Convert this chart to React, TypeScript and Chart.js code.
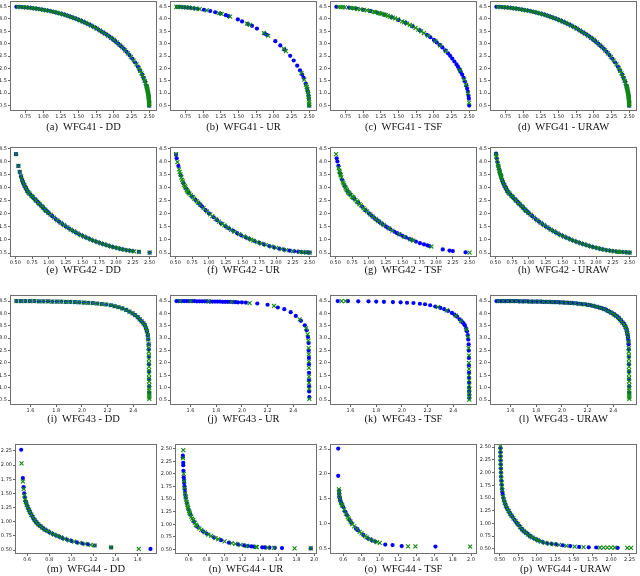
import React, { useEffect, useRef } from "react";
import { Chart, registerables } from "chart.js";

Chart.register(...registerables);

type Pt = [number, number];

// ---------------- tick labels ----------------
const t41X = [0.75, 1.0, 1.25, 1.5, 1.75, 2.0, 2.25, 2.5];
const t4Y = [0.5, 1.0, 1.5, 2.0, 2.5, 3.0, 3.5, 4.0, 4.5];
const t42X = [0.5, 0.75, 1.0, 1.25, 1.5, 1.75, 2.0, 2.25, 2.5];
const t43X = [1.6, 1.8, 2.0, 2.2, 2.4];
const t44mX = [0.6, 0.8, 1.0, 1.2, 1.4, 1.6];
const t44mY = [0.5, 0.75, 1.0, 1.25, 1.5, 1.75, 2.0, 2.25];
const t44nX = [0.6, 0.8, 1.0, 1.2, 1.4, 1.6, 1.8, 2.0];
const t44nY = [0.5, 0.75, 1.0, 1.25, 1.5, 1.75, 2.0, 2.25, 2.5];
const t44oY = [0.5, 1.0, 1.5, 2.0, 2.5];
const t44pX = [0.5, 0.75, 1.0, 1.25, 1.5, 1.75, 2.0, 2.25];

// ---------------- WFG41 ----------------
const w41Even: Pt[] = [[0.62,4.49],[0.66,4.49],[0.70,4.48],[0.74,4.47],[0.78,4.46],[0.82,4.45],[0.86,4.43],[0.90,4.42],[0.94,4.40],[0.98,4.38],[1.02,4.36],[1.06,4.34],[1.10,4.32],[1.14,4.29],[1.18,4.26],[1.22,4.23],[1.26,4.20],[1.30,4.17],[1.34,4.13],[1.38,4.09],[1.42,4.05],[1.46,4.01],[1.50,3.96],[1.54,3.92],[1.58,3.87],[1.62,3.81],[1.66,3.76],[1.70,3.70],[1.74,3.64],[1.78,3.57],[1.82,3.50],[1.86,3.43],[1.90,3.36],[1.94,3.28],[1.98,3.19],[2.02,3.10],[2.06,3.00],[2.10,2.90],[2.14,2.79],[2.18,2.67],[2.22,2.54],[2.26,2.40],[2.30,2.24],[2.34,2.07],[2.37,1.92],[2.40,1.75],[2.42,1.62],[2.44,1.47],[2.46,1.31],[2.47,1.19],[2.48,1.06],[2.49,0.90],[2.495,0.78],[2.498,0.66],[2.5,0.5]];
const w41Odd: Pt[] = [[0.64,4.49],[0.68,4.48],[0.72,4.48],[0.76,4.47],[0.80,4.46],[0.84,4.44],[0.88,4.43],[0.92,4.41],[0.96,4.39],[1.00,4.37],[1.04,4.35],[1.08,4.33],[1.12,4.30],[1.16,4.28],[1.20,4.25],[1.24,4.22],[1.28,4.18],[1.32,4.15],[1.36,4.11],[1.40,4.07],[1.44,4.03],[1.48,3.99],[1.52,3.94],[1.56,3.89],[1.60,3.84],[1.64,3.79],[1.68,3.73],[1.72,3.67],[1.76,3.61],[1.80,3.54],[1.84,3.47],[1.88,3.40],[1.92,3.32],[1.96,3.23],[2.00,3.15],[2.04,3.05],[2.08,2.95],[2.12,2.85],[2.16,2.73],[2.20,2.61],[2.24,2.47],[2.28,2.32],[2.32,2.16]];
const w41Steep: Pt[] = [[2.354,2.0],[2.373,1.9],[2.391,1.8],[2.408,1.7],[2.423,1.6],[2.436,1.5],[2.449,1.4],[2.46,1.3],[2.465,1.25],[2.469,1.2],[2.473,1.15],[2.477,1.1],[2.481,1.05],[2.484,1.0],[2.487,0.95],[2.49,0.9],[2.492,0.85],[2.494,0.8],[2.496,0.75],[2.497,0.7],[2.498,0.65],[2.499,0.6],[2.5,0.55],[2.5,0.5]];
const bBlue: Pt[] = [[0.63,4.49],[0.66,4.49],[0.70,4.48],[0.74,4.47],[0.78,4.46],[0.82,4.45],[0.87,4.43],[0.92,4.41],[1.01,4.37],[1.10,4.32],[1.17,4.27],[1.24,4.22],[1.32,4.15],[1.36,4.11],[1.49,3.98],[1.55,3.90],[1.63,3.80],[1.69,3.72],[1.76,3.61],[1.87,3.41],[1.90,3.36],[2.02,3.10],[2.09,2.93],[2.15,2.76],[2.23,2.51],[2.28,2.32],[2.33,2.11],[2.37,1.92],[2.40,1.75],[2.42,1.62],[2.45,1.39],[2.47,1.19],[2.48,1.06],[2.49,0.90],[2.495,0.78],[2.5,0.5]];
const bGreen: Pt[] = [[0.62,4.49],[0.64,4.49],[0.68,4.48],[0.72,4.48],[0.76,4.47],[0.80,4.46],[0.85,4.44],[0.90,4.42],[0.95,4.40],[1.05,4.35],[1.22,4.23],[1.26,4.20],[1.38,4.09],[1.62,3.81],[1.66,3.76],[1.86,3.43],[1.92,3.32],[2.14,2.79],[2.17,2.70],[2.39,1.81],[2.43,1.55],[2.455,1.34],[2.465,1.25],[2.473,1.15],[2.481,1.05],[2.487,0.95],[2.492,0.85],[2.496,0.75],[2.498,0.65],[2.5,0.55],[2.5,0.5]];
const cBlue: Pt[] = [[0.62,4.49],[0.80,4.46],[0.90,4.42],[1.00,4.37],[1.10,4.32],[1.20,4.25],[1.30,4.17],[1.40,4.07],[1.50,3.96],[1.60,3.84],[1.70,3.70],[1.80,3.54],[1.90,3.36],[1.95,3.26],[2.00,3.15],[2.04,3.05],[2.08,2.95],[2.12,2.85],[2.16,2.73],[2.20,2.61],[2.23,2.51],[2.26,2.40],[2.29,2.28],[2.32,2.16],[2.34,2.07],[2.36,1.97],[2.38,1.86],[2.40,1.75],[2.42,1.62],[2.44,1.47],[2.46,1.31],[2.47,1.19],[2.48,1.06],[2.49,0.90],[2.495,0.78],[2.5,0.5]];
const cGreen: Pt[] = [[0.65,4.49],[0.68,4.48],[0.71,4.48],[0.74,4.47],[0.82,4.45],[0.85,4.44],[0.87,4.43],[0.92,4.41],[0.96,4.39],[1.01,4.37],[1.05,4.35],[1.10,4.32],[1.15,4.28],[1.17,4.27],[1.22,4.23],[1.24,4.22],[1.26,4.20],[1.30,4.17],[1.32,4.15],[1.35,4.12],[1.38,4.09],[1.42,4.05],[1.45,4.02],[1.49,3.98],[1.55,3.90],[1.58,3.87],[1.62,3.81],[1.66,3.76],[1.69,3.72],[1.74,3.64],[1.78,3.57],[1.82,3.50],[1.86,3.43],[1.92,3.32],[2.02,3.10],[2.09,2.93],[2.17,2.70],[2.37,1.92],[2.43,1.55],[2.455,1.34],[2.484,1.0],[2.498,0.62]];

// ---------------- WFG42 ----------------
const eBlue: Pt[] = [[0.51,4.28],[0.545,3.83],[0.565,3.60],[0.585,3.43],[0.60,3.30],[0.61,3.23],[0.62,3.17],[0.63,3.11],[0.64,3.06],[0.65,3.01],[0.66,2.96],[0.67,2.91],[0.68,2.87],[0.69,2.83],[0.70,2.80],[0.725,2.73],[0.75,2.66],[0.775,2.595],[0.80,2.53],[0.825,2.465],[0.85,2.40],[0.875,2.335],[0.90,2.27],[0.925,2.205],[0.95,2.14],[0.975,2.08],[1.00,2.02],[1.05,1.91],[1.10,1.80],[1.15,1.70],[1.20,1.61],[1.25,1.52],[1.30,1.44],[1.35,1.36],[1.40,1.29],[1.45,1.22],[1.50,1.16],[1.55,1.10],[1.60,1.045],[1.65,0.99],[1.70,0.94],[1.75,0.89],[1.80,0.85],[1.85,0.81],[1.90,0.77],[1.95,0.735],[2.00,0.70],[2.05,0.67],[2.10,0.64],[2.15,0.615],[2.20,0.595],[2.25,0.575],[2.34,0.55],[2.50,0.52]];
const eGreen: Pt[] = [[0.51,4.28],[0.545,3.83],[0.565,3.60],[0.585,3.43],[0.60,3.30],[0.615,3.20],[0.635,3.085],[0.655,2.985],[0.675,2.89],[0.695,2.815],[0.71,2.77],[0.74,2.69],[0.76,2.635],[0.79,2.555],[0.81,2.505],[0.84,2.425],[0.86,2.375],[0.89,2.295],[0.91,2.245],[0.94,2.165],[0.96,2.115],[0.99,2.045],[1.025,1.965],[1.075,1.855],[1.125,1.75],[1.175,1.655],[1.225,1.565],[1.275,1.48],[1.325,1.40],[1.375,1.325],[1.425,1.255],[1.475,1.19],[1.525,1.13],[1.575,1.07],[1.625,1.015],[1.675,0.965],[1.725,0.915],[1.775,0.87],[1.825,0.83],[1.875,0.79],[1.925,0.75],[1.975,0.715],[2.025,0.685],[2.075,0.655],[2.125,0.627],[2.175,0.605],[2.225,0.585],[2.27,0.568],[2.34,0.55],[2.50,0.52]];
const fBlue: Pt[] = [[0.51,4.26],[0.52,4.12],[0.545,3.83],[0.58,3.47],[0.62,3.17],[0.66,2.96],[0.70,2.80],[0.75,2.66],[0.80,2.53],[0.85,2.40],[0.88,2.32],[0.90,2.27],[0.95,2.14],[1.00,2.02],[1.07,1.87],[1.12,1.76],[1.18,1.64],[1.25,1.52],[1.30,1.44],[1.36,1.35],[1.42,1.26],[1.48,1.18],[1.55,1.10],[1.60,1.045],[1.68,0.96],[1.75,0.89],[1.82,0.83],[1.90,0.77],[1.97,0.72],[2.05,0.67],[2.12,0.63],[2.20,0.595],[2.27,0.57],[2.33,0.552],[2.38,0.54],[2.43,0.53],[2.47,0.525],[2.50,0.52]];
const fGreen: Pt[] = [[0.51,4.28],[0.53,3.98],[0.555,3.70],[0.565,3.60],[0.575,3.51],[0.59,3.39],[0.60,3.30],[0.61,3.23],[0.63,3.11],[0.64,3.06],[0.65,3.01],[0.67,2.91],[0.68,2.87],[0.69,2.83],[0.71,2.77],[0.73,2.715],[0.76,2.635],[0.78,2.58],[0.82,2.48],[0.84,2.425],[0.87,2.35],[0.92,2.22],[0.97,2.09],[1.02,1.98],[1.05,1.91],[1.10,1.80],[1.15,1.70],[1.20,1.61],[1.23,1.555],[1.28,1.47],[1.33,1.39],[1.38,1.315],[1.45,1.22],[1.52,1.135],[1.58,1.07],[1.63,1.01],[1.66,0.98],[1.72,0.92],[1.78,0.865],[1.85,0.81],[1.93,0.75],[2.00,0.70],[2.08,0.65],[2.15,0.615],[2.25,0.575],[2.35,0.548],[2.40,0.538],[2.45,0.528],[2.50,0.52]];
const gBlue: Pt[] = [[0.52,4.12],[0.53,4.0],[0.545,3.83],[0.57,3.55],[0.60,3.30],[0.64,3.06],[0.68,2.87],[0.72,2.74],[0.78,2.58],[0.84,2.425],[0.90,2.27],[0.95,2.14],[1.00,2.02],[1.04,1.93],[1.08,1.84],[1.12,1.76],[1.16,1.68],[1.20,1.61],[1.25,1.52],[1.28,1.47],[1.32,1.41],[1.38,1.315],[1.42,1.26],[1.46,1.21],[1.50,1.16],[1.55,1.10],[1.60,1.045],[1.64,1.0],[1.70,0.94],[1.76,0.88],[1.82,0.83],[1.87,0.795],[1.90,0.77],[2.10,0.64],[2.20,0.595],[2.25,0.575],[2.44,0.53]];
const gGreen: Pt[] = [[0.51,4.28],[0.55,3.76],[0.56,3.65],[0.565,3.60],[0.575,3.51],[0.58,3.47],[0.59,3.39],[0.61,3.23],[0.62,3.17],[0.63,3.11],[0.65,3.01],[0.66,2.96],[0.67,2.91],[0.69,2.83],[0.70,2.80],[0.71,2.77],[0.73,2.715],[0.75,2.66],[0.76,2.635],[0.77,2.61],[0.80,2.53],[0.82,2.48],[0.83,2.45],[0.86,2.375],[0.88,2.32],[0.92,2.22],[0.94,2.165],[0.97,2.09],[1.02,1.98],[1.06,1.89],[1.10,1.80],[1.14,1.72],[1.18,1.64],[1.22,1.57],[1.30,1.44],[1.35,1.36],[1.45,1.22],[1.53,1.12],[1.62,1.02],[1.66,0.98],[1.93,0.75],[2.50,0.52]];
const hBlueExtra: Pt[] = [[0.51,4.30],[0.52,4.12],[0.53,3.98],[0.555,3.70],[0.575,3.51],[2.30,0.56],[2.40,0.538],[2.45,0.528]];
const hGreenExtra: Pt[] = [[0.515,4.2],[0.525,4.05],[0.537,3.9],[0.55,3.76],[0.56,3.65],[0.57,3.55],[0.58,3.47],[0.59,3.39],[2.32,0.555],[2.37,0.543],[2.42,0.533],[2.47,0.524]];

// ---------------- WFG43 ----------------
const w43Top: Pt[] = [[1.49,4.50],[1.525,4.50],[1.56,4.50],[1.595,4.50],[1.63,4.50],[1.665,4.49],[1.70,4.49],[1.735,4.49],[1.77,4.48],[1.805,4.48],[1.84,4.48],[1.875,4.47],[1.91,4.47],[1.945,4.46],[1.98,4.45],[2.015,4.44],[2.05,4.43],[2.085,4.42],[2.12,4.40],[2.155,4.38],[2.19,4.36],[2.225,4.33],[2.255,4.29],[2.285,4.25],[2.315,4.20],[2.345,4.14],[2.37,4.07],[2.395,4.00],[2.415,3.93],[2.435,3.85],[2.45,3.76],[2.465,3.68],[2.48,3.60],[2.49,3.52],[2.50,3.40],[2.507,3.28],[2.513,3.12],[2.517,2.95],[2.52,2.75]];
const w43TopMid: Pt[] = [[1.507,4.50],[1.542,4.50],[1.577,4.50],[1.612,4.50],[1.647,4.50],[1.682,4.49],[1.717,4.49],[1.752,4.48],[1.787,4.48],[1.822,4.48],[1.857,4.47],[1.892,4.47],[1.927,4.46],[1.962,4.455],[1.997,4.445],[2.032,4.435],[2.067,4.425],[2.102,4.41],[2.137,4.39],[2.172,4.37],[2.207,4.345],[2.24,4.31],[2.27,4.27],[2.30,4.225],[2.33,4.17],[2.358,4.105],[2.383,4.035],[2.405,3.965],[2.425,3.89],[2.443,3.81],[2.458,3.72],[2.472,3.63],[2.485,3.56],[2.495,3.46],[2.504,3.34],[2.51,3.2],[2.515,3.04],[2.519,2.85]];
const w43VertG: Pt[] = [[2.521,2.6],[2.521,2.45],[2.522,2.3],[2.522,2.15],[2.522,2.0],[2.523,1.85],[2.523,1.7],[2.523,1.55],[2.523,1.4],[2.524,1.25],[2.524,1.1],[2.524,0.98],[2.524,0.88],[2.525,0.78],[2.525,0.7],[2.525,0.62],[2.525,0.55]];
const w43VertB: Pt[] = [[2.521,2.55],[2.522,2.25],[2.522,1.95],[2.523,1.65],[2.523,1.35],[2.524,1.05],[2.524,0.8]];
const jBlue: Pt[] = [[1.49,4.50],[1.51,4.50],[1.53,4.50],[1.55,4.50],[1.57,4.50],[1.59,4.50],[1.61,4.50],[1.63,4.50],[1.65,4.49],[1.67,4.49],[1.69,4.49],[1.71,4.49],[1.73,4.49],[1.75,4.48],[1.77,4.48],[1.79,4.48],[1.81,4.48],[1.83,4.48],[1.85,4.47],[1.87,4.47],[1.89,4.47],[1.91,4.47],[1.93,4.46],[1.95,4.46],[1.97,4.45],[2.00,4.45],[2.03,4.44],[2.12,4.40],[2.20,4.35],[2.28,4.24],[2.33,4.17],[2.38,4.05],[2.42,3.90],[2.46,3.70],[2.49,3.52],[2.505,3.32],[2.515,3.05],[2.52,2.8],[2.52,2.5],[2.522,2.2],[2.522,1.95],[2.523,1.6],[2.523,1.3],[2.524,1.05],[2.524,0.85],[2.525,0.62]];
const jGreen: Pt[] = [[1.52,4.50],[1.60,4.50],[1.74,4.49],[1.92,4.47],[2.06,4.42],[2.25,4.30],[2.45,3.76],[2.50,3.40],[2.512,3.15],[2.518,2.9],[2.52,2.6],[2.521,2.35],[2.522,2.05],[2.522,1.8],[2.523,1.45],[2.523,1.2],[2.524,0.95],[2.525,0.55]];
const kBlue: Pt[] = [[1.50,4.50],[1.58,4.50],[1.66,4.49],[1.74,4.49],[1.80,4.48],[1.86,4.47],[1.93,4.46],[1.99,4.45],[2.04,4.43],[2.09,4.42],[2.14,4.39],[2.18,4.37],[2.22,4.33],[2.26,4.28],[2.30,4.22],[2.33,4.17],[2.36,4.10],[2.39,4.02],[2.41,3.95],[2.43,3.87],[2.45,3.76],[2.47,3.65],[2.48,3.60],[2.49,3.52],[2.50,3.40],[2.507,3.28],[2.513,3.12],[2.517,2.95],[2.52,2.75],[2.521,2.5],[2.522,2.2],[2.522,1.9],[2.523,1.6],[2.523,1.4],[2.524,1.2],[2.524,1.0],[2.524,0.85],[2.525,0.7],[2.525,0.58]];
const kGreen: Pt[] = [[1.53,4.50],[1.56,4.50],[2.28,4.25],[2.35,4.12],[2.42,3.91],[2.46,3.70],[2.50,3.35],[2.515,3.05],[2.52,2.6],[2.522,2.3],[2.522,2.0],[2.523,1.75],[2.523,1.5],[2.524,1.3],[2.524,1.1],[2.524,0.95],[2.525,0.8],[2.525,0.65],[2.525,0.52]];

// ---------------- WFG44 ----------------
const mBlue: Pt[] = [[0.546,2.27],[0.561,1.77],[0.567,1.61],[0.573,1.50],[0.579,1.43],[0.585,1.36],[0.59,1.33],[0.60,1.28],[0.61,1.23],[0.62,1.19],[0.63,1.15],[0.645,1.10],[0.66,1.05],[0.675,1.01],[0.69,0.975],[0.71,0.935],[0.73,0.905],[0.75,0.875],[0.77,0.85],[0.80,0.815],[0.83,0.785],[0.86,0.76],[0.89,0.735],[0.92,0.71],[0.96,0.685],[1.00,0.66],[1.05,0.635],[1.10,0.615],[1.15,0.60],[1.21,0.58],[1.36,0.545],[1.716,0.52]];
const mGreen: Pt[] = [[0.549,2.03],[0.561,1.71],[0.57,1.58],[0.576,1.47],[0.582,1.40],[0.588,1.345],[0.595,1.30],[0.605,1.255],[0.615,1.21],[0.625,1.17],[0.638,1.125],[0.652,1.075],[0.668,1.03],[0.683,0.99],[0.70,0.955],[0.72,0.92],[0.74,0.89],[0.76,0.862],[0.785,0.832],[0.815,0.80],[0.845,0.772],[0.875,0.748],[0.905,0.722],[0.94,0.697],[0.98,0.672],[1.025,0.647],[1.075,0.625],[1.125,0.607],[1.175,0.592],[1.21,0.58],[1.36,0.545],[1.61,0.52]];
const nBlue: Pt[] = [[0.535,2.36],[0.535,2.33],[0.54,2.22],[0.54,2.17],[0.542,2.06],[0.545,1.93],[0.548,1.88],[0.55,1.82],[0.553,1.75],[0.556,1.70],[0.56,1.64],[0.565,1.57],[0.57,1.52],[0.58,1.42],[0.60,1.29],[0.62,1.19],[0.66,1.05],[0.70,0.95],[0.76,0.86],[0.80,0.815],[0.88,0.74],[0.96,0.685],[1.05,0.635],[1.15,0.60],[1.22,0.58],[1.26,0.568],[1.30,0.56],[1.33,0.555],[1.42,0.542],[1.45,0.54],[1.50,0.535],[1.56,0.532],[1.64,0.528],[1.96,0.52]];
const nGreen: Pt[] = [[0.54,2.47],[0.537,2.31],[0.545,2.0],[0.55,1.85],[0.555,1.72],[0.56,1.62],[0.565,1.55],[0.572,1.49],[0.578,1.44],[0.585,1.39],[0.59,1.35],[0.595,1.32],[0.605,1.26],[0.61,1.23],[0.615,1.21],[0.63,1.15],[0.64,1.11],[0.65,1.08],[0.67,1.03],[0.68,0.99],[0.69,0.97],[0.72,0.92],[0.74,0.89],[0.78,0.84],[0.82,0.795],[0.85,0.77],[0.90,0.725],[0.93,0.705],[1.00,0.66],[1.08,0.625],[1.12,0.61],[1.18,0.59],[1.25,0.57],[1.35,0.55],[1.36,0.548],[1.48,0.537],[1.55,0.532],[1.78,0.522],[1.96,0.52]];
const oBlue: Pt[] = [[0.545,2.51],[0.545,1.96],[0.555,1.66],[0.556,1.60],[0.558,1.55],[0.56,1.52],[0.565,1.48],[0.57,1.45],[0.58,1.40],[0.60,1.33],[0.62,1.24],[0.64,1.17],[0.67,1.07],[0.69,1.01],[0.74,0.90],[0.76,0.865],[0.82,0.77],[0.87,0.70],[0.91,0.665],[0.95,0.635],[1.06,0.575],[1.14,0.565],[1.24,0.545],[1.61,0.535]];
const oGreen: Pt[] = [[0.552,1.69],[0.556,1.63],[0.558,1.57],[0.563,1.50],[0.575,1.42],[0.585,1.38],[0.59,1.36],[0.61,1.28],[0.63,1.20],[0.65,1.13],[0.66,1.10],[0.68,1.04],[0.70,0.985],[0.72,0.94],[0.75,0.885],[0.78,0.83],[0.80,0.80],[0.84,0.745],[0.855,0.72],[0.89,0.685],[0.93,0.65],[0.97,0.625],[1.0,0.61],[1.31,0.54],[1.39,0.54],[1.99,0.535]];
const pBlue: Pt[] = [[0.51,2.48],[0.51,2.40],[0.511,2.32],[0.512,2.24],[0.513,2.16],[0.514,2.08],[0.516,2.0],[0.518,1.92],[0.521,1.84],[0.525,1.76],[0.53,1.68],[0.535,1.62],[0.54,1.57],[0.55,1.50],[0.56,1.44],[0.575,1.38],[0.59,1.32],[0.61,1.27],[0.63,1.22],[0.65,1.17],[0.67,1.13],[0.70,1.07],[0.73,1.01],[0.76,0.96],[0.79,0.90],[0.81,0.87],[0.84,0.83],[0.87,0.80],[0.90,0.76],[0.92,0.74],[0.96,0.71],[1.00,0.68],[1.03,0.66],[1.08,0.635],[1.14,0.61],[1.20,0.60],[1.26,0.59],[1.35,0.57],[1.45,0.555],[1.57,0.54],[1.70,0.532],[1.80,0.528],[2.09,0.522]];
const pGreen: Pt[] = [[0.51,2.52],[0.51,2.44],[0.511,2.36],[0.512,2.28],[0.513,2.20],[0.515,2.12],[0.517,2.04],[0.519,1.96],[0.523,1.88],[0.527,1.80],[0.532,1.72],[0.537,1.65],[0.545,1.54],[0.555,1.47],[0.567,1.41],[0.582,1.35],[0.60,1.295],[0.62,1.245],[0.64,1.195],[0.66,1.15],[0.685,1.10],[0.715,1.04],[0.745,0.985],[0.775,0.93],[0.80,0.885],[0.825,0.85],[0.855,0.815],[0.885,0.78],[0.91,0.75],[0.94,0.725],[0.98,0.695],[1.015,0.67],[1.055,0.645],[1.11,0.62],[1.17,0.605],[1.23,0.595],[1.30,0.58],[1.40,0.562],[1.51,0.547],[1.63,0.536],[1.85,0.527],[1.90,0.526],[1.95,0.525],[2.00,0.524],[2.05,0.523],[2.22,0.52],[2.27,0.52]];

// ---------------- panels ----------------
type PanelDef = {
  caption: string;
  blue: Pt[];
  green: Pt[];
  xr: [number, number];
  yr: [number, number];
  xt: number[];
  yt: number[];
  xd: number;
  yd: number;
  row: number;
  col: number;
};

const ROW_TOPS = [1, 147, 295, 444];
const CAP_Y = [127, 270, 419, 569];
const COL_LEFT = [10, 170, 330, 490];
const COL_LEFT_R4 = [15, 175, 330, 494];
const COL_RIGHT = [157, 317, 477, 637];
const BOX_H = 110;
const YW = 20;
const XH = 14;
const PAD_T = 5;
const PAD_R = 9;

const r1x: [number, number] = [0.53, 2.61];
const r1y: [number, number] = [0.28, 4.72];
const r2x: [number, number] = [0.42, 2.61];
const r2y: [number, number] = [0.35, 4.55];
const r3x: [number, number] = [1.44, 2.585];
const r3y: [number, number] = [0.3, 4.74];

const panels: PanelDef[] = [
  { caption: "(a)  WFG41 - DD", blue: w41Even, green: [...w41Odd, ...w41Steep], xr: r1x, yr: r1y, xt: t41X, yt: t4Y, xd: 2, yd: 1, row: 0, col: 0 },
  { caption: "(b)  WFG41 - UR", blue: bBlue, green: bGreen, xr: r1x, yr: r1y, xt: t41X, yt: t4Y, xd: 2, yd: 1, row: 0, col: 1 },
  { caption: "(c)  WFG41 - TSF", blue: cBlue, green: cGreen, xr: r1x, yr: r1y, xt: t41X, yt: t4Y, xd: 2, yd: 1, row: 0, col: 2 },
  { caption: "(d)  WFG41 - URAW", blue: w41Even, green: [...w41Odd, ...w41Steep], xr: r1x, yr: r1y, xt: t41X, yt: t4Y, xd: 2, yd: 1, row: 0, col: 3 },
  { caption: "(e)  WFG42 - DD", blue: eBlue, green: eGreen, xr: r2x, yr: r2y, xt: t42X, yt: t4Y, xd: 2, yd: 1, row: 1, col: 0 },
  { caption: "(f)  WFG42 - UR", blue: fBlue, green: fGreen, xr: r2x, yr: r2y, xt: t42X, yt: t4Y, xd: 2, yd: 1, row: 1, col: 1 },
  { caption: "(g)  WFG42 - TSF", blue: gBlue, green: gGreen, xr: r2x, yr: r2y, xt: t42X, yt: t4Y, xd: 2, yd: 1, row: 1, col: 2 },
  { caption: "(h)  WFG42 - URAW", blue: [...hBlueExtra, ...eBlue], green: [...hGreenExtra, ...eGreen], xr: r2x, yr: r2y, xt: t42X, yt: t4Y, xd: 2, yd: 1, row: 1, col: 3 },
  { caption: "(i)  WFG43 - DD", blue: [...w43Top, ...w43VertB], green: [...w43Top, ...w43VertG], xr: r3x, yr: r3y, xt: t43X, yt: t4Y, xd: 1, yd: 1, row: 2, col: 0 },
  { caption: "(j)  WFG43 - UR", blue: jBlue, green: jGreen, xr: r3x, yr: r3y, xt: t43X, yt: t4Y, xd: 1, yd: 1, row: 2, col: 1 },
  { caption: "(k)  WFG43 - TSF", blue: kBlue, green: kGreen, xr: r3x, yr: r3y, xt: t43X, yt: t4Y, xd: 1, yd: 1, row: 2, col: 2 },
  { caption: "(l)  WFG43 - URAW", blue: [...w43Top, ...w43TopMid, ...w43VertB], green: [...w43TopMid, ...w43VertG], xr: r3x, yr: r3y, xt: t43X, yt: t4Y, xd: 1, yd: 1, row: 2, col: 3 },
  { caption: "(m)  WFG44 - DD", blue: mBlue, green: mGreen, xr: [0.49, 1.775], yr: [0.43, 2.37], xt: t44mX, yt: t44mY, xd: 1, yd: 2, row: 3, col: 0 },
  { caption: "(n)  WFG44 - UR", blue: nBlue, green: nGreen, xr: [0.448, 2.03], yr: [0.41, 2.59], xt: t44nX, yt: t44nY, xd: 1, yd: 2, row: 3, col: 1 },
  { caption: "(o)  WFG44 - TSF", blue: oBlue, green: oGreen, xr: [0.455, 2.065], yr: [0.385, 2.6], xt: t44nX, yt: t44oY, xd: 1, yd: 1, row: 3, col: 2 },
  { caption: "(p)  WFG44 - URAW", blue: pBlue, green: pGreen, xr: [0.423, 2.35], yr: [0.40, 2.56], xt: t44pX, yt: t44nY, xd: 2, yd: 2, row: 3, col: 3 },
];

const framePlugin = {
  id: "frame",
  afterDraw(chart: any) {
    const { ctx, chartArea } = chart;
    const { left, top, right, bottom } = chartArea;
    ctx.save();
    ctx.strokeStyle = "#6f6f6f";
    ctx.lineWidth = 1;
    ctx.strokeRect(Math.round(left) + 0.5, Math.round(top) + 0.5, Math.round(right - left) - 1, Math.round(bottom - top) - 1);
    ctx.restore();
  },
};

const tickFont = { size: 5, family: "DejaVu Sans" };

function Panel({ p }: { p: PanelDef }) {
  const ref = useRef<HTMLCanvasElement>(null);
  const boxLeft = p.row === 3 ? COL_LEFT_R4[p.col] : COL_LEFT[p.col];
  const boxRight = COL_RIGHT[p.col];
  const boxW = boxRight - boxLeft;
  const boxTop = ROW_TOPS[p.row];
  const W = YW + boxW + PAD_R;
  const H = PAD_T + BOX_H + XH;

  useEffect(() => {
    const chart = new Chart(ref.current!, {
      type: "scatter",
      data: {
        datasets: [
          {
            label: "green",
            data: p.green.map(([x, y]) => ({ x, y })),
            pointStyle: "crossRot",
            pointRadius: 2.8,
            borderColor: "#118811",
            backgroundColor: "#118811",
            borderWidth: 1.1,
            order: 0,
          } as any,
          {
            label: "blue",
            data: p.blue.map(([x, y]) => ({ x, y })),
            pointStyle: "circle",
            pointRadius: 2.1,
            borderColor: "#0000ff",
            backgroundColor: "#0000ff",
            borderWidth: 0,
            order: 1,
          } as any,
        ],
      },
      options: {
        animation: false,
        responsive: false,
        events: [],
        layout: { padding: { top: PAD_T, right: PAD_R, left: 0, bottom: 0 } },
        plugins: { legend: { display: false }, tooltip: { enabled: false }, title: { display: false } },
        scales: {
          x: {
            type: "linear",
            min: p.xr[0],
            max: p.xr[1],
            afterBuildTicks: (s: any) => {
              s.ticks = p.xt.map((v) => ({ value: v }));
            },
            afterFit: (s: any) => {
              s.height = XH;
            },
            ticks: {
              callback: (v: any) => Number(v).toFixed(p.xd),
              font: tickFont,
              color: "#222",
              padding: 1,
              autoSkip: false,
              maxRotation: 0,
              minRotation: 0,
            },
            grid: { display: true, drawOnChartArea: false, drawTicks: true, tickLength: 2, color: "#666" },
            border: { display: false },
          },
          y: {
            type: "linear",
            min: p.yr[0],
            max: p.yr[1],
            afterBuildTicks: (s: any) => {
              s.ticks = p.yt.map((v) => ({ value: v }));
            },
            afterFit: (s: any) => {
              s.width = YW;
            },
            ticks: {
              callback: (v: any) => Number(v).toFixed(p.yd),
              font: tickFont,
              color: "#222",
              padding: 1,
              autoSkip: false,
            },
            grid: { display: true, drawOnChartArea: false, drawTicks: true, tickLength: 2, color: "#666" },
            border: { display: false },
          },
        },
      } as any,
      plugins: [framePlugin],
    });
    return () => chart.destroy();
  }, []);

  const capY = CAP_Y[p.row];
  return (
    <>
      <canvas
        ref={ref}
        width={W}
        height={H}
        style={{ position: "absolute", left: boxLeft - YW, top: boxTop - PAD_T, width: W, height: H }}
      />
      <div
        style={{
          position: "absolute",
          left: boxLeft - 20,
          width: boxW + 40,
          top: capY - 7,
          height: 14,
          lineHeight: "14px",
          textAlign: "center",
          fontFamily: '"Liberation Serif", "DejaVu Serif", serif',
          fontSize: "10.5px",
          color: "#111",
          whiteSpace: "pre",
        }}
      >
        {p.caption}
      </div>
    </>
  );
}

export default function App() {
  return (
    <div style={{ position: "absolute", left: 0, top: 0, width: 640, height: 576, background: "#fff", overflow: "hidden" }}>
      {panels.map((p, i) => (
        <Panel key={i} p={p} />
      ))}
    </div>
  );
}
